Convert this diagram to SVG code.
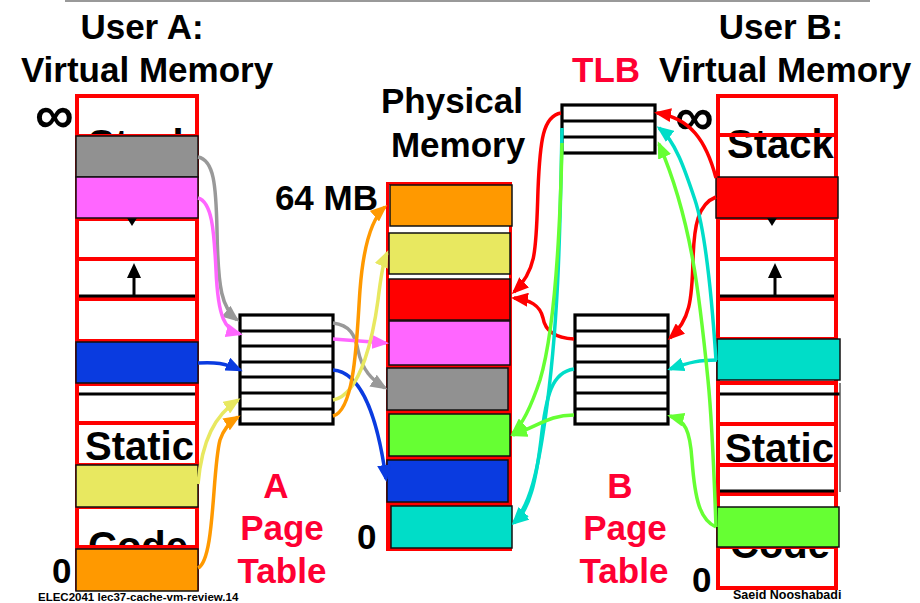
<svg xmlns="http://www.w3.org/2000/svg" width="920" height="603" viewBox="0 0 920 603">
<style>
text{font-family:"Liberation Sans",Arial,sans-serif;font-weight:bold;fill:#000}
.t35{font-size:35px}
.lbl{font-size:40px}
.red{fill:#ff0033}
.col{fill:#fff;stroke:#ff0000;stroke-width:4}
.rl{stroke:#ff0000;stroke-width:4}
.bl{stroke:#000;stroke-width:3.2}
.blk{stroke:#111;stroke-width:1.5}
.pt{fill:#fff;stroke:#000;stroke-width:3.2}
.c{fill:none;stroke-width:3.5}
</style>
<defs>
<marker id="mGray" markerUnits="userSpaceOnUse" markerWidth="17" markerHeight="14" refX="14" refY="7" orient="auto"><path d="M0,0 L17,7 L0,14 z" fill="#999"/></marker>
<marker id="mPink" markerUnits="userSpaceOnUse" markerWidth="17" markerHeight="14" refX="14" refY="7" orient="auto"><path d="M0,0 L17,7 L0,14 z" fill="#ff66ff"/></marker>
<marker id="mBlue" markerUnits="userSpaceOnUse" markerWidth="17" markerHeight="14" refX="14" refY="7" orient="auto"><path d="M0,0 L17,7 L0,14 z" fill="#0a3be0"/></marker>
<marker id="mYel" markerUnits="userSpaceOnUse" markerWidth="17" markerHeight="14" refX="14" refY="7" orient="auto"><path d="M0,0 L17,7 L0,14 z" fill="#e8e860"/></marker>
<marker id="mOra" markerUnits="userSpaceOnUse" markerWidth="17" markerHeight="14" refX="14" refY="7" orient="auto"><path d="M0,0 L17,7 L0,14 z" fill="#ff9900"/></marker>
<marker id="mRed" markerUnits="userSpaceOnUse" markerWidth="17" markerHeight="14" refX="14" refY="7" orient="auto"><path d="M0,0 L17,7 L0,14 z" fill="#ff0000"/></marker>
<marker id="mCyan" markerUnits="userSpaceOnUse" markerWidth="17" markerHeight="14" refX="14" refY="7" orient="auto"><path d="M0,0 L17,7 L0,14 z" fill="#00ddc8"/></marker>
<marker id="mGreen" markerUnits="userSpaceOnUse" markerWidth="17" markerHeight="14" refX="14" refY="7" orient="auto"><path d="M0,0 L17,7 L0,14 z" fill="#66ff33"/></marker>
</defs>
<rect width="920" height="603" fill="#fff"/>
<line x1="65" y1="1" x2="870" y2="1" stroke="#999" stroke-width="2"/>

<g id="titles">
<text class="t35" x="142" y="39" text-anchor="middle">User A:</text>
<text class="t35" x="147" y="82" text-anchor="middle">Virtual Memory</text>
<text class="t35" x="781" y="39" text-anchor="middle">User B:</text>
<text class="t35" x="785" y="82" text-anchor="middle">Virtual Memory</text>
<text class="t35 red" x="572" y="82">TLB</text>
<text class="t35" x="452" y="113" text-anchor="middle">Physical</text>
<text class="t35" x="458" y="157" text-anchor="middle">Memory</text>
<text class="t35" x="378" y="210" text-anchor="end">64 MB</text>
<text class="t35" x="357" y="549">0</text>
<text class="t35" x="52" y="583">0</text>
<text class="t35" x="692" y="592">0</text>
<text style="font-size:54px" x="35" y="133">∞</text>
<text style="font-size:54px" x="675" y="135">∞</text>
</g>

<g id="userA-vm">
<rect class="col" x="77" y="96" width="120" height="493"/>
<text class="lbl" x="88" y="158">Stack</text>
<text class="lbl" x="85" y="460">Static</text>
<text class="lbl" x="88" y="560">Code</text>
<line class="rl" x1="77" y1="136" x2="197" y2="136"/>
<line class="rl" x1="77" y1="219" x2="197" y2="219"/>
<line class="rl" x1="77" y1="259" x2="197" y2="259"/>
<line class="rl" x1="77" y1="299" x2="197" y2="299"/>
<line class="rl" x1="77" y1="341" x2="197" y2="341"/>
<line class="rl" x1="77" y1="384" x2="197" y2="384"/>
<line class="rl" x1="77" y1="423" x2="197" y2="423"/>
<line class="rl" x1="77" y1="465" x2="197" y2="465"/>
<line class="rl" x1="77" y1="507" x2="197" y2="507"/>
<line class="rl" x1="77" y1="547" x2="197" y2="547"/>
<line class="bl" x1="79" y1="296" x2="195" y2="296"/>
<line class="bl" x1="79" y1="394" x2="195" y2="394"/>
<line x1="134" y1="296" x2="134" y2="276" stroke="#000" stroke-width="3"/>
<path d="M134,263 L127,278 L141,278 z" fill="#000"/>
<path d="M127,218 L137,218 L132,226 z" fill="#000"/>
<rect class="blk" x="76" y="136" width="122" height="41" fill="#919191"/>
<rect class="blk" x="76" y="177" width="122" height="41" fill="#ff66ff"/>
<rect class="blk" x="76" y="342" width="122" height="41" fill="#0a3be0"/>
<rect class="blk" x="76" y="465" width="122" height="42" fill="#e8e860"/>
<rect class="blk" x="76" y="549" width="122" height="42" fill="#ff9900"/>
</g>

<g id="userB-vm">
<rect class="col" x="718" y="96" width="118" height="492"/>
<text class="lbl" x="727" y="158">Stack</text>
<text class="lbl" x="725" y="462">Static</text>
<text class="lbl" x="730" y="558">Code</text>
<line class="rl" x1="718" y1="135" x2="836" y2="135"/>
<line class="rl" x1="718" y1="218" x2="836" y2="218"/>
<line class="rl" x1="718" y1="259" x2="836" y2="259"/>
<line class="rl" x1="718" y1="299" x2="836" y2="299"/>
<line class="rl" x1="718" y1="339" x2="836" y2="339"/>
<line class="rl" x1="718" y1="383" x2="836" y2="383"/>
<line class="rl" x1="718" y1="424" x2="836" y2="424"/>
<line class="rl" x1="718" y1="465" x2="836" y2="465"/>
<line class="rl" x1="718" y1="494" x2="836" y2="494"/>
<line class="rl" x1="718" y1="547" x2="836" y2="547"/>
<line class="bl" x1="720" y1="296" x2="834" y2="296"/>
<line class="bl" x1="720" y1="394" x2="840" y2="394"/>
<line class="bl" x1="720" y1="491" x2="834" y2="491"/>
<line x1="840" y1="383" x2="840" y2="492" stroke="#555" stroke-width="1.5"/>
<line x1="775" y1="296" x2="775" y2="276" stroke="#000" stroke-width="3"/>
<path d="M775,263 L768,278 L782,278 z" fill="#000"/>
<path d="M767,218 L777,218 L772,226 z" fill="#000"/>
<rect class="blk" x="716" y="177" width="122" height="41" fill="#ff0000"/>
<rect class="blk" x="717" y="339" width="123" height="41" fill="#00ddc8"/>
<rect class="blk" x="717" y="507" width="122" height="40" fill="#66ff33"/>
</g>

<g id="physical-memory">
<rect x="387.5" y="183.5" width="123" height="366" fill="#fff" stroke="#ff0000" stroke-width="3"/>
<rect x="387" y="320" width="125" height="231" fill="#ff0000"/>
<rect class="blk" x="390" y="185" width="122" height="41" fill="#ff9900"/>
<rect class="blk" x="389" y="233" width="121" height="41" fill="#e8e860"/>
<rect class="blk" x="389" y="279" width="121" height="41" fill="#ff0000"/>
<rect class="blk" x="389" y="321" width="121" height="44" fill="#ff66ff"/>
<rect class="blk" x="387" y="368" width="121" height="42" fill="#919191"/>
<rect class="blk" x="389" y="414" width="121" height="42" fill="#66ff33"/>
<rect class="blk" x="387" y="460" width="121" height="42" fill="#0a3be0"/>
<rect class="blk" x="391" y="506" width="121" height="42" fill="#00ddc8"/>
</g>

<g id="A-page-table">
<rect class="pt" x="240" y="315" width="93" height="109"/>
<line class="bl" x1="240" y1="331" x2="333" y2="331"/>
<line class="bl" x1="240" y1="346" x2="333" y2="346"/>
<line class="bl" x1="240" y1="362" x2="333" y2="362"/>
<line class="bl" x1="240" y1="377" x2="333" y2="377"/>
<line class="bl" x1="240" y1="393" x2="333" y2="393"/>
<line class="bl" x1="240" y1="409" x2="333" y2="409"/>
<text class="t35 red" x="276" y="498" text-anchor="middle">A</text>
<text class="t35 red" x="282" y="540" text-anchor="middle">Page</text>
<text class="t35 red" x="282" y="583" text-anchor="middle">Table</text>
</g>

<g id="B-page-table">
<rect class="pt" x="575" y="315" width="93" height="109"/>
<line class="bl" x1="575" y1="331" x2="668" y2="331"/>
<line class="bl" x1="575" y1="346" x2="668" y2="346"/>
<line class="bl" x1="575" y1="362" x2="668" y2="362"/>
<line class="bl" x1="575" y1="377" x2="668" y2="377"/>
<line class="bl" x1="575" y1="393" x2="668" y2="393"/>
<line class="bl" x1="575" y1="409" x2="668" y2="409"/>
<text class="t35 red" x="620" y="498" text-anchor="middle">B</text>
<text class="t35 red" x="625" y="540" text-anchor="middle">Page</text>
<text class="t35 red" x="624" y="583" text-anchor="middle">Table</text>
</g>

<g id="TLB">
<rect class="pt" x="562" y="105" width="93" height="48"/>
<line class="bl" x1="562" y1="121" x2="655" y2="121"/>
<line class="bl" x1="562" y1="137" x2="655" y2="137"/>
</g>

<g id="connectors">
<path class="c" stroke="#999" marker-end="url(#mGray)" d="M198,157 C214,160 216,185 217,230 C218,290 222,308 237,320"/>
<path class="c" stroke="#ff66ff" marker-end="url(#mPink)" d="M198,198 C212,202 214,230 216,270 C218,318 225,330 240,334"/>
<path class="c" stroke="#0a3be0" marker-end="url(#mBlue)" d="M198,363 C215,362 225,363 240,370"/>
<path class="c" stroke="#e8e860" marker-end="url(#mYel)" d="M198,484 C202,440 215,415 238,400"/>
<path class="c" stroke="#ff9900" marker-end="url(#mOra)" d="M198,568 C215,560 212,470 220,440 C224,428 230,422 238,417"/>

<path class="c" stroke="#999" marker-end="url(#mGray)" d="M333,323 C350,325 355,335 358,350 C362,370 372,380 385,388"/>
<path class="c" stroke="#ff66ff" marker-end="url(#mPink)" d="M333,339 L386,343"/>
<path class="c" stroke="#0a3be0" marker-end="url(#mBlue)" d="M333,370 C362,372 378,420 386,479"/>
<path class="c" stroke="#e8e860" marker-end="url(#mYel)" d="M333,400 C362,395 374,330 378,300 C381,275 383,262 387,253"/>
<path class="c" stroke="#ff9900" marker-end="url(#mOra)" d="M333,416 C356,410 357,330 360,290 C363,250 370,220 385,207"/>

<path class="c" stroke="#ff0000" marker-end="url(#mRed)" d="M716,178 C706,140 690,118 657,113"/>
<path class="c" stroke="#ff0000" marker-end="url(#mRed)" d="M561,113 C543,116 540,140 538,190 C536,250 537,270 514,292"/>
<path class="c" stroke="#ff0000" marker-end="url(#mRed)" d="M574,339 C555,338 545,330 543,318 C540,305 530,300 514,298"/>
<path class="c" stroke="#ff0000" marker-end="url(#mRed)" d="M716,197 C698,204 694,225 693,260 C692,300 690,320 670,338"/>

<path class="c" stroke="#00ddc8" marker-end="url(#mCyan)" d="M717,360 C700,360 690,362 670,369"/>
<path class="c" stroke="#00ddc8" marker-end="url(#mCyan)" d="M574,369 C552,372 546,395 541,440 C536,480 530,510 514,523"/>
<path class="c" stroke="#00ddc8" marker-end="url(#mCyan)" d="M716,360 C712,300 705,230 695,200 C685,170 675,140 659,128"/>
<path class="c" stroke="#00ddc8" marker-end="url(#mCyan)" d="M562,128 C560,240 558,330 545,420 C538,470 530,505 514,522"/>

<path class="c" stroke="#66ff33" marker-end="url(#mGreen)" d="M716,527 C714,470 712,420 708,380 C700,300 692,220 659,144"/>
<path class="c" stroke="#66ff33" marker-end="url(#mGreen)" d="M562,143 C560,240 555,330 540,380 C530,410 522,425 513,433"/>
<path class="c" stroke="#66ff33" marker-end="url(#mGreen)" d="M716,527 C700,520 695,500 692,460 C690,430 685,420 670,416"/>
<path class="c" stroke="#66ff33" marker-end="url(#mGreen)" d="M574,415 C550,415 540,425 513,435"/>
</g>

<g id="footer">
<text style="font-size:11.5px" x="38" y="601">ELEC2041  lec37-cache-vm-review.14</text>
<text style="font-size:12.5px" x="733" y="599">Saeid Nooshabadi</text>
</g>
</svg>
